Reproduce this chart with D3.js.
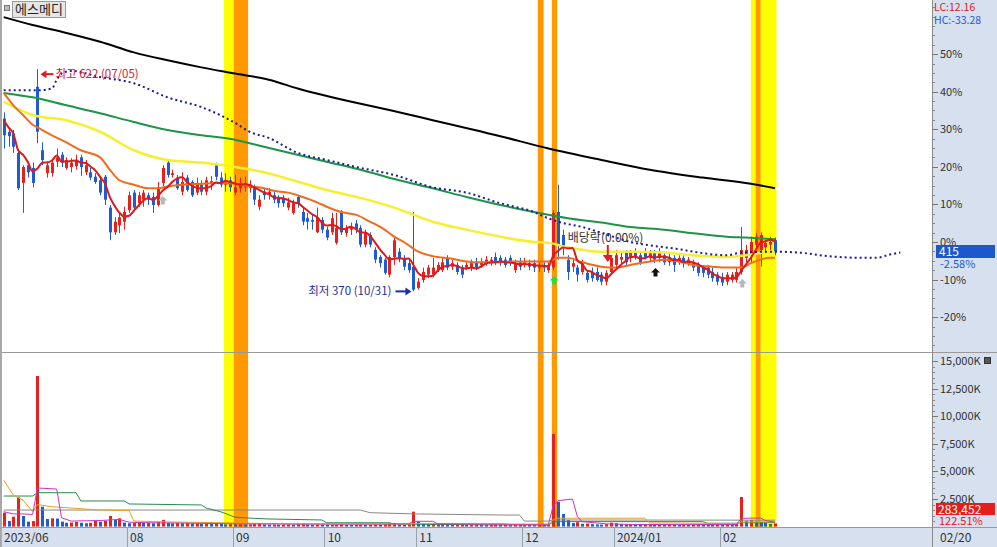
<!DOCTYPE html>
<html><head><meta charset="utf-8">
<script src="https://cdn.jsdelivr.net/npm/d3@7"></script>
<style>
body{margin:0;background:#fff;}
svg{display:block;font-family:"Noto Sans CJK KR","Noto Sans",sans-serif;}
</style>
</head><body>
<svg id="c" width="997" height="547"></svg>
<script>
// ---------------- DATA ----------------
const stockName = "에스메디";
const basePrice = 426;            // previous close = 0%
const lastPrice = 415;
const lastChange = "-2.58%";
const lcText = "LC:12.16";
const hcText = "HC:-33.28";
const lastVolume = "283,452";
const lastVolRatio = "122.51%";
const lastDate = "02/20";

const monthLabels = [
  {i:0,label:"2023/06"},{i:26,label:"08"},{i:48,label:"09"},{i:67,label:"10"},
  {i:86,label:"11"},{i:108,label:"12"},{i:127,label:"2024/01"},{i:149,label:"02"}
];
const pctTicks = [50,40,30,20,10,0,-10,-20];
const volTicks = [15000,12500,10000,7500,5000,2500];

// [open, high, low, close] per trading day (2023/06/26 .. 2024/02/20)
const ohlc = [
[566,573,532,547],[551,555,534,546],[549,553,527,534],[527,530,485,487],[493,513,459,511],
[513,517,499,505],[510,516,488,493],[602,622,538,551],[530,539,513,519],[504,517,499,513],
[504,519,500,516],[517,532,511,522],[525,528,511,516],[510,522,508,519],[511,521,505,516],
[512,525,508,519],[522,525,501,511],[505,519,502,513],[505,510,496,499],[500,504,492,494],
[496,499,479,482],[500,502,468,474],[465,468,428,437],[437,454,434,449],[445,459,436,454],
[449,466,440,460],[462,483,459,479],[482,485,462,465],[470,483,466,479],[474,485,466,482],
[479,482,468,474],[477,482,459,468],[468,494,466,488],[493,513,489,510],[516,519,499,502],
[502,508,499,504],[499,502,485,487],[483,505,479,494],[499,502,483,485],[494,496,477,479],
[482,499,479,493],[491,496,479,483],[483,500,479,496],[492,501,485,495],[513,516,496,500],
[499,505,488,491],[491,504,483,495],[496,500,483,488],[482,502,479,488],[487,499,482,493],
[488,500,483,493],[487,496,482,491],[487,491,468,474],[466,479,462,474],[483,487,474,479],
[479,487,474,483],[479,483,470,474],[476,479,465,470],[476,479,466,470],[465,476,462,471],
[459,474,457,470],[477,479,465,470],[460,465,445,449],[453,459,440,449],[451,457,440,449],
[437,465,436,454],[451,454,436,440],[440,443,428,431],[437,459,434,453],[425,459,423,442],
[459,462,434,437],[436,445,432,442],[440,448,434,443],[447,451,436,440],[442,445,420,423],
[423,440,420,436],[434,437,420,423],[417,420,402,406],[409,411,397,402],[406,408,389,391],
[389,411,386,409],[409,431,400,428],[415,419,403,408],[408,411,394,398],[402,406,391,394],
[398,460,370,372],[374,385,372,381],[383,397,380,392],[389,400,385,397],[389,408,386,397],
[394,403,392,400],[394,408,392,403],[408,411,394,397],[398,406,394,402],[400,403,389,392],
[397,400,385,389],[397,403,394,400],[397,406,393,402],[403,408,394,397],[400,408,397,403],
[402,410,399,406],[402,409,399,406],[409,414,400,403],[408,411,399,402],[406,409,397,400],
[408,411,399,402],[394,406,391,402],[403,408,394,398],[400,408,397,403],[402,406,394,398],
[402,406,392,397],[397,403,392,400],[400,403,392,397],[394,403,391,400],[397,462,394,459],
[460,491,406,423],[434,440,411,420],[406,411,383,392],[398,408,392,402],[397,400,381,389],
[392,406,389,402],[391,394,380,383],[392,397,381,385],[392,397,381,383],[389,392,377,381],
[381,394,377,391],[392,411,389,408],[400,417,397,411],[406,414,402,409],[414,417,400,403],
[408,417,403,414],[415,419,406,409],[411,415,400,403],[415,419,406,409],[408,417,403,414],
[414,417,402,406],[408,419,403,415],[411,415,400,403],[409,414,399,403],[408,411,392,400],
[403,411,400,408],[408,411,397,402],[402,409,399,406],[402,406,393,397],[400,403,387,391],
[397,400,386,391],[397,400,385,389],[392,397,381,385],[389,392,377,381],[386,391,376,380],
[381,392,377,389],[383,392,380,389],[383,397,380,392],[392,443,389,417],[408,423,403,417],
[413,432,403,426],[423,436,417,432],[417,437,398,434],[420,428,415,425],[423,432,417,426],
[428,431,411,415]
];

// volume, thousands of shares
const volume = [
1260,510,900,2650,960,450,500,13640,1800,690,750,730,450,350,370,420,350,300,340,510,
450,520,960,600,750,360,300,330,420,330,360,300,400,620,350,300,340,310,330,290,
310,280,300,290,330,250,200,220,190,210,180,200,240,260,200,180,190,170,190,200,
180,230,280,200,170,210,190,160,170,190,220,160,150,170,180,160,170,210,190,230,
280,330,200,180,230,1350,450,330,250,270,200,230,190,160,170,200,150,160,180,150,
140,160,170,150,160,140,180,150,160,140,130,160,150,170,8390,2250,1140,600,320,400,
250,270,220,200,180,220,350,300,220,200,210,180,170,190,200,160,180,150,170,200,
160,180,150,170,190,160,180,170,200,180,220,200,230,2680,530,580,450,420,350,231,
283
];

// 5-day MA values before enough closes are on screen
const ma5Lead = [564,556,549,530];
// moving averages: [day index, price]
const ma20 = [[0,595],[2,581],[4,570],[6,559],[7,556],[10,547],[13,539],[16,530],[20,522],[22,508],[24,496],[27,491],[30,487],[32,487],[34,489],[37,491],[41,492],[44,493],[48,492],[51,489],[54,487],[56,484],[59,482],[62,477],[65,471],[67,466],[70,460],[73,457],[76,449],[79,440],[81,432],[83,426],[86,415],[89,410],[93,407],[96,404],[99,403],[103,403],[106,404],[110,404],[113,404],[115,408],[117,408],[120,403],[124,398],[127,397],[130,400],[133,403],[137,406],[140,404],[143,400],[147,398],[150,397],[153,397],[155,402],[157,406],[159,408],[160,408]];
const ma60 = [[0,585],[6,570],[13,564],[20,551],[27,530],[34,519],[41,516],[48,511],[54,505],[60,496],[67,485],[74,476],[81,465],[89,449],[96,440],[103,432],[110,426],[113,425],[117,420],[124,415],[130,415],[137,414],[143,411],[150,409],[154,411],[158,414],[160,414]];
const ma120 = [[0,595],[6,590],[13,581],[20,572],[27,562],[34,553],[41,547],[48,542],[51,538],[57,530],[67,517],[74,508],[82,496],[89,487],[96,477],[103,468],[110,460],[117,453],[124,448],[130,443],[137,440],[143,436],[150,432],[154,431],[160,429]];
const ma240 = [[0,681],[6,672],[13,663],[20,653],[27,641],[34,632],[41,624],[48,617],[55,610],[61,600],[82,573],[103,546],[113,532],[124,519],[134,508],[145,499],[155,492],[160,487]];
const leadSpan = [[0,598],[7,598],[10,600],[11,610],[12,617],[14,620],[20,613],[27,606],[34,590],[41,579],[48,561],[51,551],[55,544],[61,527],[67,519],[74,510],[81,502],[89,488],[96,482],[103,470],[106,466],[110,460],[112,455],[115,449],[120,443],[127,431],[130,426],[133,423],[137,420],[140,418],[143,415],[150,411],[153,414],[160,415],[165,414],[171,410],[178,408],[181,408],[184,412],[186,414]];

// volume averages: [day index, thousands]
const vma5 = [[0,1350],[2,1150],[4,1150],[6,1100],[7,3500],[11,3400],[12,800],[14,500],[20,550],[24,650],[26,400],[30,350],[40,300],[50,240],[60,230],[70,220],[80,230],[84,250],[85,480],[89,480],[90,250],[100,220],[110,210],[113,220],[114,1900],[115,2350],[118,2500],[119,900],[120,450],[125,250],[130,200],[140,180],[150,200],[152,200],[153,750],[157,780],[158,550],[160,400]];
const vma20 = [[0,4200],[2,2850],[4,2400],[6,1350],[7,2000],[10,1800],[20,1500],[26,1450],[27,500],[35,420],[48,330],[60,250],[84,220],[85,280],[104,260],[105,200],[113,200],[114,650],[115,760],[133,760],[134,330],[152,280],[153,420],[160,430]];
const vma60 = [[0,2770],[6,2770],[7,3070],[15,3070],[16,2320],[25,2320],[26,2050],[41,1960],[42,1680],[45,1350],[48,850],[52,750],[55,690],[66,600],[67,350],[80,350],[81,230],[103,150],[113,150],[114,420],[115,450],[145,450],[146,300],[152,300],[153,350],[160,360]];
const vma120 = [[0,1500],[74,1500],[76,1260],[85,1150],[103,1050],[107,1050],[108,500],[113,500],[114,600],[160,580]];

// highlighted periods in day-index units
const bands = [
  {from:45.7,to:47.7,color:"#ffff00"},
  {from:47.7,to:50.7,color:"#ff9900"},
  {from:110.8,to:112.0,color:"#ff9900"},
  {from:113.7,to:114.8,color:"#ff9900"},
  {from:155.0,to:160.3,color:"#ffff00"},
  {from:156.0,to:157.0,color:"#ff9900"}
];

// ---------------- CHART ----------------
const W=997,H=547,xR=932,volBottom=527;
const svg=d3.select("#c");
const x=d3.scaleLinear().domain([0,160]).range([3.7,775]);
const yPct=d3.scaleLinear().domain([-29.28,64.41]).range([352,0]);
const y=p=>yPct((p/basePrice-1)*100);
const yVol=d3.scaleLinear().domain([0,15000]).range([526.6,361]);
const UP="#e8201c",DN="#1d5cd4";

// background panels
svg.append("rect").attr("x",0).attr("y",0).attr("width",W).attr("height",H).attr("fill","#fff");
svg.append("rect").attr("x",xR).attr("y",0).attr("width",W-xR).attr("height",H).attr("fill","#d6e0ef");
svg.append("rect").attr("x",0).attr("y",528).attr("width",xR).attr("height",H-528).attr("fill","#d6e0ef");

// bands
svg.append("g").selectAll("rect").data(bands).join("rect")
  .attr("x",d=>x(d.from)).attr("width",d=>x(d.to)-x(d.from))
  .attr("y",0).attr("height",volBottom).attr("fill",d=>d.color);

// frame lines
const frame=svg.append("g").attr("stroke","#999").attr("stroke-width",1);
frame.append("line").attr("x1",0).attr("x2",W).attr("y1",352.5).attr("y2",352.5);
frame.append("line").attr("x1",0).attr("x2",W).attr("y1",527.5).attr("y2",527.5);
frame.append("line").attr("x1",xR+0.5).attr("x2",xR+0.5).attr("y1",0).attr("y2",H).attr("stroke","#8a8a8a");
svg.append("rect").attr("x",0).attr("y",0).attr("width",2).attr("height",H).attr("fill","#a8a8a8");

// long moving average lines
const line=d3.line().x(d=>x(d[0])).y(d=>y(d[1])).curve(d3.curveMonotoneX);
const maG=svg.append("g").attr("fill","none");
maG.append("path").attr("d",line(ma240)).attr("stroke","#000").attr("stroke-width",2);
maG.append("path").attr("d",line(ma120)).attr("stroke","#1e9447").attr("stroke-width",2);
maG.append("path").attr("d",line(ma60)).attr("stroke","#f7ee30").attr("stroke-width",2.5);

// candles
const cg=svg.append("g");
cg.selectAll("line").data(ohlc).join("line")
  .attr("x1",(d,i)=>Math.round(x(i))+0.5).attr("x2",(d,i)=>Math.round(x(i))+0.5)
  .attr("y1",d=>y(d[1])).attr("y2",d=>y(d[2]))
  .attr("stroke",d=>d[3]>=d[0]?UP:DN).attr("stroke-width",1);
cg.selectAll("rect").data(ohlc).join("rect")
  .attr("x",(d,i)=>Math.round(x(i))-1).attr("width",3)
  .attr("y",d=>y(Math.max(d[0],d[3])))
  .attr("height",d=>Math.max(1,Math.abs(y(d[0])-y(d[3]))))
  .attr("fill",d=>d[3]>=d[0]?UP:DN);

// 20 MA, 5 MA and leading span over the candles
maG.raise();
const closes=ohlc.map(d=>d[3]);
const ma5=closes.map((c,i)=>[i, i<4?ma5Lead[i]:d3.mean(closes.slice(i-4,i+1))]);
svg.append("path").attr("fill","none").attr("d",line(ma20)).attr("stroke","#f26b1d").attr("stroke-width",2);
svg.append("path").attr("fill","none").attr("d",line(ma5)).attr("stroke","#e01818").attr("stroke-width",2);
svg.append("path").attr("fill","none").attr("d",line(leadSpan)).attr("stroke","#1b1b96")
  .attr("stroke-width",2).attr("stroke-dasharray","2,3");

// volume bars
const vg=svg.append("g");
vg.selectAll("rect").data(volume).join("rect")
  .attr("x",(d,i)=>Math.round(x(i))-1).attr("width",3)
  .attr("y",d=>yVol(d)).attr("height",d=>yVol(0)-yVol(d))
  .attr("fill",(d,i)=>(i===0||d>=volume[i-1])?UP:DN);
const vline=d3.line().x(d=>x(d[0])).y(d=>yVol(d[1]));
const vmg=svg.append("g").attr("fill","none").attr("stroke-width",1);
vmg.append("path").attr("d",vline(vma120)).attr("stroke","#888");
vmg.append("path").attr("d",vline(vma60)).attr("stroke","#2a8a4a");
vmg.append("path").attr("d",vline(vma20)).attr("stroke","#e8a020");
vmg.append("path").attr("d",vline(vma5)).attr("stroke","#cc33bb");

// ---- annotations ----
const ann=svg.append("g");
{const tx=x(7)+3, ty=y(622)+5;
 ann.append("path").attr("d",`M${tx},${ty} l6,-4 v8 z`).attr("fill","#e02020");
 ann.append("line").attr("x1",tx+5).attr("x2",tx+13).attr("y1",ty).attr("y2",ty).attr("stroke","#e02020").attr("stroke-width",2);
 ann.append("text").attr("x",tx+15).attr("y",ty+4).attr("font-size",11.5).attr("fill","#d42030").text("최고 622 (07/05)");}
{const tx=x(85)-2, ty=y(370);
 ann.append("path").attr("d",`M${tx},${ty} l-6,-4 v8 z`).attr("fill","#1a2fb0");
 ann.append("line").attr("x1",tx-5).attr("x2",tx-16).attr("y1",ty).attr("y2",ty).attr("stroke","#1a2fb0").attr("stroke-width",2);
 ann.append("text").attr("x",tx-20).attr("y",ty+4).attr("text-anchor","end").attr("font-size",11.5).attr("fill","#1e2e9a").text("최저 370 (10/31)");}
{const ax=x(125)+1.5;
 ann.append("text").attr("x",ax-40).attr("y",242).attr("font-size",12).attr("fill","#333").text("배당락(0.00%)");
 ann.append("line").attr("x1",ax).attr("x2",ax).attr("y1",245).attr("y2",256).attr("stroke","#e02020").attr("stroke-width",2);
 ann.append("path").attr("d",`M${ax-5},255 h10 l-5,7 z`).attr("fill","#e02020");}
function upArrow(cx,top,color){
  ann.append("path").attr("d",`M${cx},${top} l4.5,4.5 h-2.5 v4 h-4 v-4 h-2.5 z`).attr("fill",color);
}
upArrow(x(33),196,"#b8b8b8");
upArrow(x(153)+1,279,"#b8b8b8");
upArrow(x(114)+1,276,"#22dd44");
upArrow(x(135)+1,268,"#111");

// ---- title ----
svg.append("rect").attr("x",4.5).attr("y",5.5).attr("width",5).attr("height",5).attr("fill","#bbb").attr("stroke","#777");
svg.append("rect").attr("x",12.5).attr("y",1.5).attr("width",53).attr("height",16).attr("fill","#e6e6e6").attr("stroke","#999");
svg.append("text").attr("x",15).attr("y",14).attr("font-size",13).attr("fill","#222").text(stockName);

// ---- right axis: price ----
const ax=svg.append("g").attr("font-size",11);
ax.append("text").attr("x",934).attr("y",11).attr("font-size",10.5).attr("fill","#e0201c").text(lcText);
ax.append("text").attr("x",934).attr("y",24).attr("font-size",10.5).attr("fill","#1d5cd4").text(hcText);
const minorP=d3.range(-27.5,63,2.5);
ax.selectAll("line.mp").data(minorP).join("line").attr("class","mp")
  .attr("x1",xR).attr("x2",xR+3).attr("y1",d=>Math.round(yPct(d))+0.5).attr("y2",d=>Math.round(yPct(d))+0.5).attr("stroke","#888");
ax.selectAll("line.Mp").data(pctTicks).join("line").attr("class","Mp")
  .attr("x1",xR).attr("x2",xR+6).attr("y1",d=>Math.round(yPct(d))+0.5).attr("y2",d=>Math.round(yPct(d))+0.5).attr("stroke","#777");
ax.selectAll("text.tp").data(pctTicks).join("text").attr("class","tp")
  .attr("x",xR+8).attr("y",d=>yPct(d)+4).attr("fill","#333").text(d=>d+"%");
ax.append("rect").attr("x",936).attr("y",245).attr("width",59).attr("height",13).attr("fill","#1b58cc");
ax.append("text").attr("x",939).attr("y",256).attr("fill","#fff").attr("font-size",12).text(lastPrice);
ax.append("text").attr("x",940).attr("y",268).attr("fill","#1d5cd4").text(lastChange);

// ---- right axis: volume ----
const minorV=d3.range(500,15500,500);
ax.selectAll("line.mv").data(minorV).join("line").attr("class","mv")
  .attr("x1",xR).attr("x2",xR+3).attr("y1",d=>Math.round(yVol(d))+0.5).attr("y2",d=>Math.round(yVol(d))+0.5).attr("stroke","#888");
ax.selectAll("line.Mv").data(volTicks).join("line").attr("class","Mv")
  .attr("x1",xR).attr("x2",xR+6).attr("y1",d=>Math.round(yVol(d))+0.5).attr("y2",d=>Math.round(yVol(d))+0.5).attr("stroke","#777");
ax.selectAll("text.tv").data(volTicks).join("text").attr("class","tv")
  .attr("x",xR+8).attr("y",d=>yVol(d)+4).attr("fill","#333").text(d=>d3.format(",")(d)+"K");
ax.append("rect").attr("x",984.5).attr("y",357.5).attr("width",6).attr("height",6).attr("fill","#555").attr("stroke","#333");
ax.append("rect").attr("x",936).attr("y",503).attr("width",59).attr("height",12).attr("fill","#e41e1a");
ax.append("text").attr("x",938).attr("y",513.5).attr("fill","#fff").attr("font-size",12).text(lastVolume);
ax.append("text").attr("x",939).attr("y",525).attr("fill","#e0201c").text(lastVolRatio);
ax.append("text").attr("x",940).attr("y",542).attr("fill","#333").attr("font-size",12).text(lastDate);

// ---- bottom date axis ----
const bx=svg.append("g");
bx.selectAll("line").data(monthLabels.filter(d=>d.i>0)).join("line")
  .attr("x1",d=>Math.round(x(d.i)-2.2)+0.5).attr("x2",d=>Math.round(x(d.i)-2.2)+0.5)
  .attr("y1",528).attr("y2",H).attr("stroke","#9aa0a8");
bx.selectAll("text").data(monthLabels).join("text")
  .attr("x",d=>d.i===0?4:x(d.i)+1).attr("y",542).attr("font-size",12).attr("fill","#333").text(d=>d.label);
</script>
</body></html>
